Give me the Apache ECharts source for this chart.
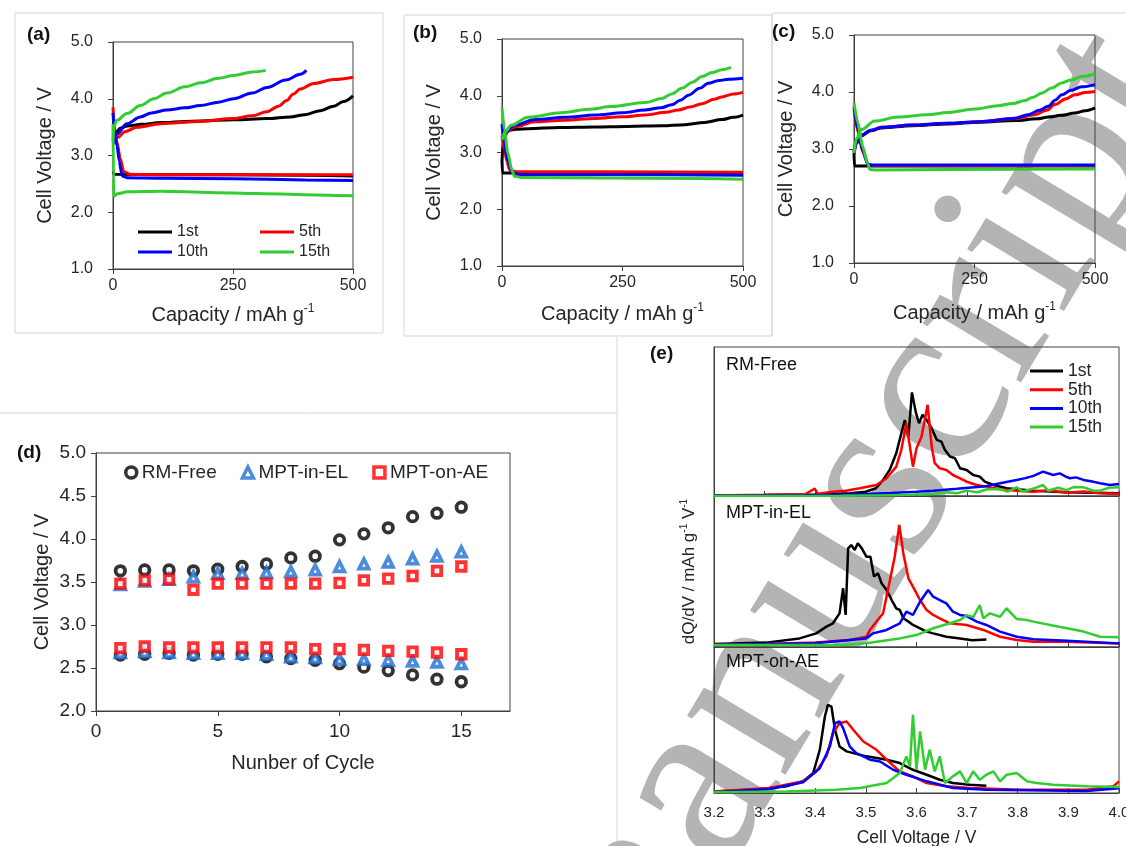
<!DOCTYPE html>
<html><head><meta charset="utf-8">
<script src="https://cdn.jsdelivr.net/npm/echarts@6/dist/echarts.min.js"></script>
<style>html,body{margin:0;padding:0;background:#fff}#c{width:1126px;height:846px}</style>
</head><body><div id="c"></div><script>
// ---------- (a) RM-Free charge/discharge ----------
const a1c=[[0,3.25],[5,3.40],[15,3.48],[30,3.52],[60,3.55],[100,3.58],[182,3.61],[251,3.63],[321,3.65],[370,3.68],[400,3.72],[432,3.79],[460,3.87],[480,3.95],[500,4.05]];
const a1d=[[0,2.72],[3,2.67],[100,2.66],[250,2.66],[400,2.65],[500,2.64]];
const a5c=[[3,3.20],[10,3.32],[25,3.42],[50,3.50],[100,3.56],[180,3.60],[250,3.65],[290,3.70],[320,3.77],[345,3.87],[362,3.97],[375,4.08],[390,4.17],[418,4.27],[460,4.34],[500,4.38]];
const a5d=[[0,3.85],[3,3.45],[8,3.25],[15,2.95],[22,2.72],[35,2.67],[100,2.66],[250,2.66],[400,2.66],[500,2.66]];
const a10c=[[3,3.20],[8,3.38],[29,3.56],[57,3.68],[80,3.75],[112,3.80],[150,3.84],[182,3.88],[220,3.94],[251,4.00],[290,4.10],[321,4.20],[360,4.33],[390,4.43],[403,4.50]];
const a10d=[[0,3.75],[3,3.40],[8,3.20],[13,2.90],[19,2.64],[30,2.61],[100,2.60],[250,2.59],[400,2.57],[500,2.56]];
const a15c=[[0,3.30],[2,3.52],[8,3.62],[29,3.74],[57,3.88],[85,4.00],[112,4.10],[150,4.21],[182,4.28],[220,4.36],[251,4.41],[290,4.47],[318,4.50]];
const a15d=[[0,3.55],[1,2.60],[2,2.28],[10,2.33],[30,2.36],[100,2.37],[200,2.35],[300,2.33],[400,2.31],[500,2.29]];
// ---------- (b) MPT-in-EL ----------
const b1c=[[0,2.85],[3,3.20],[12,3.39],[30,3.41],[54,3.42],[120,3.44],[193,3.45],[260,3.46],[331,3.47],[380,3.49],[420,3.53],[456,3.58],[480,3.62],[500,3.66]];
const b1d=[[0,2.85],[1,2.64],[40,2.64],[200,2.64],[500,2.64]];
const b5c=[[0,3.22],[10,3.36],[26,3.45],[68,3.54],[130,3.57],[193,3.60],[250,3.63],[297,3.66],[340,3.71],[366,3.75],[390,3.80],[415,3.86],[440,3.94],[456,3.98],[480,4.03],[500,4.06]];
const b5d=[[0,3.30],[5,3.05],[10,2.85],[16,2.69],[30,2.66],[200,2.66],[500,2.65]];
const b10c=[[0,3.22],[10,3.38],[26,3.48],[68,3.58],[130,3.62],[193,3.66],[250,3.70],[297,3.75],[330,3.79],[352,3.84],[370,3.92],[387,4.01],[410,4.13],[428,4.22],[450,4.27],[470,4.29],[500,4.31]];
const b10d=[[0,3.50],[5,3.15],[12,2.85],[22,2.64],[35,2.61],[200,2.61],[500,2.60]];
const b15c=[[0,3.22],[8,3.38],[19,3.48],[54,3.62],[123,3.70],[180,3.76],[227,3.81],[297,3.88],[331,3.95],[352,4.03],[373,4.13],[395,4.24],[415,4.34],[436,4.41],[456,4.46],[475,4.50]];
const b15d=[[0,3.79],[5,3.40],[12,3.00],[20,2.70],[26,2.58],[40,2.56],[200,2.55],[400,2.54],[500,2.53]];
// ---------- (c) MPT-on-AE ----------
const c1c=[[0,2.90],[5,3.10],[15,3.23],[35,3.32],[57,3.37],[120,3.41],[195,3.44],[260,3.47],[334,3.50],[380,3.53],[403,3.56],[430,3.59],[458,3.63],[480,3.67],[500,3.72]];
const c1d=[[0,2.90],[1,2.70],[30,2.70],[200,2.70],[500,2.70]];
const c5c=[[0,2.95],[5,3.12],[15,3.24],[35,3.33],[57,3.38],[120,3.42],[195,3.45],[260,3.48],[334,3.53],[375,3.60],[400,3.68],[417,3.78],[440,3.88],[458,3.95],[480,3.99],[500,4.01]];
const c5d=[[0,3.70],[8,3.30],[18,2.95],[29,2.73],[40,2.71],[200,2.71],[500,2.71]];
const c10c=[[0,2.95],[5,3.12],[15,3.24],[35,3.33],[57,3.38],[120,3.42],[195,3.45],[260,3.48],[334,3.54],[361,3.60],[385,3.68],[403,3.75],[418,3.86],[431,3.95],[450,4.03],[472,4.09],[500,4.13]];
const c10d=[[0,3.75],[8,3.35],[18,2.98],[29,2.73],[40,2.72],[200,2.72],[500,2.72]];
const c15c=[[0,2.93],[5,3.18],[15,3.34],[43,3.49],[91,3.56],[150,3.60],[195,3.64],[250,3.70],[299,3.76],[330,3.80],[355,3.85],[372,3.91],[389,3.98],[410,4.07],[431,4.16],[450,4.21],[472,4.27],[500,4.32]];
const c15d=[[0,3.81],[8,3.45],[18,3.05],[28,2.75],[33,2.64],[45,2.63],[200,2.64],[500,2.65]];
// ---------- (d) average voltages vs cycle ----------
const cycles=[1,2,3,4,5,6,7,8,9,10,11,12,13,14,15];
const rmFreeChg=[3.63,3.64,3.64,3.63,3.65,3.68,3.71,3.78,3.80,3.99,4.06,4.13,4.26,4.30,4.37];
const rmFreeDis=[2.65,2.66,2.67,2.65,2.66,2.66,2.63,2.61,2.59,2.55,2.51,2.47,2.42,2.37,2.34];
const inElChg=[3.47,3.51,3.53,3.56,3.60,3.60,3.61,3.62,3.64,3.68,3.71,3.73,3.77,3.80,3.85];
const inElDis=[2.68,2.69,2.68,2.67,2.67,2.67,2.66,2.63,2.62,2.60,2.60,2.59,2.58,2.57,2.55];
const onAeChg=[3.48,3.52,3.53,3.41,3.48,3.48,3.48,3.48,3.48,3.49,3.52,3.54,3.57,3.63,3.68];
const onAeDis=[2.73,2.75,2.74,2.74,2.74,2.74,2.74,2.74,2.72,2.72,2.71,2.70,2.69,2.68,2.66];
// ---------- (e) dQ/dV (arbitrary units, 0-100 per panel) ----------
const eFree1=[[3.20,0.5],[3.30,0.7],[3.40,1.0],[3.45,1.5],[3.47,1.9],[3.50,2.9],[3.52,5.2],[3.534,10.8],[3.547,17.5],[3.56,28.7],[3.57,42],[3.577,51],[3.584,40],[3.591,69.5],[3.599,55.6],[3.605,48.9],[3.612,54.5],[3.62,51],[3.63,45.5],[3.64,37.7],[3.649,36.5],[3.656,31],[3.666,26.5],[3.676,25.3],[3.686,18.6],[3.699,17.5],[3.712,14.1],[3.725,13],[3.735,9.6],[3.752,7.4],[3.778,5.2],[3.831,3.6],[3.897,2.5],[4.0,1.8]];
const eFree5=[[3.20,0.4],[3.30,0.8],[3.38,1.2],[3.399,5.0],[3.405,1.5],[3.435,2.9],[3.46,3.5],[3.488,5.2],[3.521,7.4],[3.541,11.9],[3.56,19.7],[3.57,31],[3.58,48.9],[3.587,33],[3.593,19.7],[3.60,32],[3.61,40],[3.622,61.2],[3.63,33.2],[3.636,22],[3.646,18.6],[3.659,17.5],[3.672,14.1],[3.686,11.9],[3.699,9.6],[3.719,7.4],[3.738,6.3],[3.765,4.5],[3.798,3.6],[3.831,2.9],[3.86,3.8],[3.897,2.2],[3.93,3.0],[3.963,1.8],[4.0,1.3]];
const eFree10=[[3.20,0.2],[3.40,0.5],[3.50,1.3],[3.55,2.0],[3.60,2.8],[3.633,3.6],[3.68,4.8],[3.732,6.3],[3.765,8.5],[3.798,10.8],[3.815,12.0],[3.831,13.5],[3.85,16.4],[3.87,14.1],[3.883,15.2],[3.895,13],[3.903,11.9],[3.915,12.5],[3.93,10.8],[3.95,9.5],[3.963,8.5],[3.982,7.4],[4.0,8.1]];
const eFree15=[[3.20,0.0],[3.45,0.2],[3.55,0.5],[3.633,1.3],[3.66,2.5],[3.68,1.8],[3.699,3.6],[3.72,2.5],[3.74,4.5],[3.765,4.5],[3.78,3.0],[3.798,5.8],[3.81,3.0],[3.831,5.0],[3.85,7.4],[3.86,3.5],[3.88,5.5],[3.897,3.9],[3.91,6.0],[3.93,5.8],[3.95,3.5],[3.963,3.6],[3.98,5.5],[4.0,5.8]];
const eInEl1=[[3.20,2.0],[3.303,2.9],[3.369,5.7],[3.402,9],[3.422,13.5],[3.435,15.7],[3.448,22.3],[3.455,38.9],[3.46,21.2],[3.465,65.3],[3.471,67.5],[3.478,64.2],[3.484,68.7],[3.492,65.3],[3.501,59.8],[3.509,59.8],[3.516,46.6],[3.524,48.8],[3.531,42.2],[3.541,37.7],[3.551,31.1],[3.56,25.6],[3.567,24.5],[3.574,19],[3.584,16.8],[3.593,14.6],[3.607,12.4],[3.62,10.2],[3.633,9],[3.659,6.8],[3.686,5.7],[3.71,4.5],[3.738,5.0]];
const eInEl5=[[3.20,1.3],[3.30,2.0],[3.40,2.9],[3.468,4.6],[3.501,6.8],[3.508,11.3],[3.521,16.8],[3.534,22.3],[3.547,43.3],[3.557,59.8],[3.566,80.8],[3.574,62],[3.584,45.5],[3.593,40],[3.607,31.1],[3.62,24.5],[3.633,21.2],[3.646,19],[3.666,15.7],[3.699,14.6],[3.732,11.3],[3.765,6.8],[3.798,4.6],[3.831,3.5],[3.897,3.5],[4.0,2.4]];
const eInEl10=[[3.20,1.3],[3.40,2.5],[3.50,5.7],[3.514,9],[3.541,11.3],[3.567,15.7],[3.58,23.4],[3.593,21.2],[3.607,30],[3.623,37.7],[3.633,33.3],[3.646,31.1],[3.659,28.9],[3.672,23.4],[3.686,21.2],[3.699,20.5],[3.719,16.8],[3.738,14.6],[3.765,10.2],[3.798,6.8],[3.831,5.1],[3.897,4.2],[4.0,2.4]];
const eInEl15=[[3.20,1.3],[3.45,1.3],[3.50,2.5],[3.567,5.7],[3.60,7.9],[3.633,12.4],[3.666,15.7],[3.686,17.9],[3.699,21.0],[3.712,19.8],[3.725,27.8],[3.732,19.0],[3.745,22.3],[3.765,20.0],[3.778,25.6],[3.798,18.5],[3.818,17.9],[3.831,16.8],[3.864,14.6],[3.897,12.4],[3.93,10.2],[3.963,6.8],[4.0,6.4]];
const eOnAe1=[[3.20,1.1],[3.277,2.3],[3.343,4.6],[3.376,8],[3.396,13.7],[3.409,29.6],[3.419,52.4],[3.425,60.4],[3.432,59.2],[3.439,43.3],[3.448,31.9],[3.462,28.5],[3.475,27.3],[3.501,25.1],[3.541,22.8],[3.567,20.5],[3.593,15.9],[3.62,12.5],[3.646,9.1],[3.672,6.8],[3.705,5.7],[3.738,5.0]];
const eOnAe5=[[3.20,1.1],[3.31,3.4],[3.376,8],[3.402,14.8],[3.422,25.1],[3.435,41],[3.448,47.8],[3.462,49],[3.475,43.3],[3.495,35.3],[3.521,29.6],[3.541,22.8],[3.567,14.8],[3.593,11.4],[3.62,6.8],[3.659,4.6],[3.705,3.4],[3.804,2.3],[3.936,2.3],[3.989,4.6],[4.0,8]];
const eOnAe10=[[3.20,0.5],[3.31,2.7],[3.376,7.3],[3.409,17],[3.429,31.9],[3.439,47.8],[3.448,49],[3.455,44.4],[3.468,31.9],[3.481,27.3],[3.495,25.1],[3.508,22.8],[3.528,21.6],[3.554,15.9],[3.58,12.5],[3.62,8],[3.672,3.4],[3.738,2.3],[3.936,1.4],[4.0,3.2]];
const eOnAe15=[[3.20,0.5],[3.343,1.1],[3.442,2.3],[3.488,3.4],[3.541,6.8],[3.567,13.7],[3.58,25.1],[3.587,18.2],[3.593,53.5],[3.60,16],[3.607,42.1],[3.617,16],[3.626,29.6],[3.636,14.8],[3.646,25.1],[3.656,6.8],[3.672,11.4],[3.686,14.8],[3.699,6.8],[3.712,14.8],[3.725,9.1],[3.738,12.5],[3.752,14.8],[3.765,8],[3.778,12.5],[3.798,13.7],[3.818,8],[3.837,6.8],[3.870,5.7],[3.936,4.6],[4.0,4.1]];
const capTicks=[0,250,500];
const cycleTicks=[0,5,10,15];

const FONT='"Liberation Sans", Arial, Helvetica, sans-serif';
const TXT='#262626', AX='#404040';
const COL={'1st':'#000000','5th':'#ff0000','10th':'#0000ff','15th':'#33cc33'};
const BLUE='#1f6fd1';

const gridDefs=[
 {left:113,top:42,width:240,height:227},
 {left:502,top:39,width:241,height:227},
 {left:854,top:35,width:241,height:228},
 {left:96,top:453,width:414,height:258},
 {left:714,top:347,width:405,height:149},
 {left:714,top:496,width:405,height:151},
 {left:714,top:647,width:405,height:146}
];
const grid=gridDefs.map(g=>Object.assign({show:true,borderColor:AX,borderWidth:1,backgroundColor:'transparent',containLabel:false,outerBoundsMode:'none'},g));

function supName(size){return {fontSize:size,color:TXT,fontFamily:FONT,rich:{n:{fontSize:size,color:TXT,fontFamily:FONT,lineHeight:size+4},s:{fontSize:Math.round(size*0.6),color:TXT,fontFamily:FONT,verticalAlign:'top',lineHeight:size+4}}};}
const axLine={show:true,onZero:false,lineStyle:{color:AX,width:1}};
const xAxis=[], yAxis=[];
[0,1,2].forEach(i=>{
  xAxis.push({type:'value',gridIndex:i,min:0,max:500,interval:250,axisLine:axLine,
    axisTick:{show:true,inside:false,length:5,lineStyle:{color:AX}},
    axisLabel:{fontSize:16,color:TXT,fontFamily:FONT,margin:9},splitLine:{show:false},
    name:'{n|Capacity / mAh g}{s|-1}',nameLocation:'middle',nameGap:[34,36,38][i],nameTextStyle:supName(20)});
  yAxis.push({type:'value',gridIndex:i,min:1,max:5,interval:1,axisLine:axLine,
    axisTick:{show:true,inside:false,length:5,lineStyle:{color:AX}},
    axisLabel:{fontSize:16,color:TXT,fontFamily:FONT,margin:20,formatter:v=>v.toFixed(1)},splitLine:{show:false},
    name:'Cell Voltage / V',nameLocation:'middle',nameGap:58,nameTextStyle:{fontSize:20,color:TXT,fontFamily:FONT}});
});
xAxis.push({type:'value',gridIndex:3,min:0,max:17,interval:5,axisLine:axLine,
  axisTick:{show:true,inside:false,length:5,lineStyle:{color:AX},customValues:cycleTicks},
  axisLabel:{fontSize:19,color:TXT,fontFamily:FONT,margin:11,customValues:cycleTicks},splitLine:{show:false},
  name:'Nunber of Cycle',nameLocation:'middle',nameGap:42,nameTextStyle:{fontSize:20,color:TXT,fontFamily:FONT}});
yAxis.push({type:'value',gridIndex:3,min:2,max:5,interval:0.5,axisLine:axLine,
  axisTick:{show:true,inside:false,length:5,lineStyle:{color:AX}},
  axisLabel:{fontSize:19,color:TXT,fontFamily:FONT,margin:10,formatter:v=>v.toFixed(1)},splitLine:{show:false},
  name:'Cell Voltage / V',nameLocation:'middle',nameGap:44,nameTextStyle:{fontSize:20,color:TXT,fontFamily:FONT}});
[4,5,6].forEach(i=>{
  const bottom=(i===6);
  xAxis.push({type:'value',gridIndex:i,min:3.2,max:4.0,interval:0.1,axisLine:axLine,
    axisTick:{show:true,inside:true,length:5,lineStyle:{color:AX}},
    axisLabel:{show:bottom,fontSize:15,color:TXT,fontFamily:FONT,margin:12,formatter:v=>v.toFixed(1)},splitLine:{show:false},
    name:bottom?'Cell Voltage / V':'',nameLocation:'middle',nameGap:36,nameTextStyle:{fontSize:17.5,color:TXT,fontFamily:FONT}});
  yAxis.push({type:'value',gridIndex:i,min:0,max:100,axisLine:axLine,axisTick:{show:false},axisLabel:{show:false},splitLine:{show:false},
    name:i===5?'{n|dQ/dV / mAh g}{s|-1}{n| V}{s|-1}':'',nameLocation:'middle',nameGap:14,nameTextStyle:supName(17)});
});

const series=[];
function ln(name,data,gi,w,smooth){
  series.push({type:'line',name,data,xAxisIndex:gi,yAxisIndex:gi,symbol:'none',showSymbol:false,
    smooth:smooth||false,smoothMonotone:'x',lineStyle:{color:COL[name],width:w},itemStyle:{color:COL[name]},animation:false,silent:true});
}
const panels=[[a1c,a1d,a5c,a5d,a10c,a10d,a15c,a15d],[b1c,b1d,b5c,b5d,b10c,b10d,b15c,b15d],[c1c,c1d,c5c,c5d,c10c,c10d,c15c,c15d]];
const names=['1st','5th','10th','15th'];
panels.forEach((p,gi)=>{names.forEach((n,k)=>{ln(n,p[2*k],gi,3,0.35);ln(n,p[2*k+1],gi,3,0.2);});});
[[eFree1,eFree5,eFree10,eFree15],[eInEl1,eInEl5,eInEl10,eInEl15],[eOnAe1,eOnAe5,eOnAe10,eOnAe15]].forEach((p,j)=>{
  names.forEach((n,k)=>ln(n,p[k],4+j,2.5,false));
});
function sc(name,vals,sym,col,size){
  series.push({type:'scatter',name,data:cycles.map((c,i)=>[c,vals[i]]),xAxisIndex:3,yAxisIndex:3,symbol:sym,symbolSize:size,
    itemStyle:{color:'#ffffff',borderColor:col,borderWidth:3.8},animation:false,silent:true});
}
sc('RM-Free',rmFreeChg,'circle','#000',9.5);sc('RM-Free',rmFreeDis,'circle','#000',9.5);
sc('MPT-in-EL',inElChg,'triangle',BLUE,9.5);sc('MPT-in-EL',inElDis,'triangle',BLUE,9.5);
sc('MPT-on-AE',onAeChg,'rect','#ff0000',8.5);sc('MPT-on-AE',onAeDis,'rect','#ff0000',8.5);

const legTxt=(s)=>({fontSize:s,color:TXT,fontFamily:FONT,lineHeight:s});
const legend=[
 {data:['1st','10th'],orient:'vertical',left:138,top:224,icon:'rect',itemWidth:34,itemHeight:3,itemGap:4,textStyle:legTxt(16),padding:0,selectedMode:false},
 {data:['5th','15th'],orient:'vertical',left:260,top:224,icon:'rect',itemWidth:34,itemHeight:3,itemGap:4,textStyle:legTxt(16),padding:0,selectedMode:false},
 {data:['RM-Free','MPT-in-EL','MPT-on-AE'],orient:'horizontal',left:124,top:463,itemWidth:11,itemHeight:11,itemGap:24,textStyle:legTxt(19),padding:0,selectedMode:false,itemStyle:{borderWidth:3.5}},
 {data:['1st','5th','10th','15th'],orient:'vertical',left:1030,top:362,icon:'rect',itemWidth:33,itemHeight:3,itemGap:0.7,textStyle:legTxt(17.5),padding:0,selectedMode:false}
];

const lab=(t,x,y,bold,size)=>({type:'text',x,y,style:{text:t,fill:'#111',font:(bold?'bold ':'')+size+'px '+FONT,align:'left',verticalAlign:'middle'},z:10});
const frame=(pts)=>({type:'polyline',shape:{points:pts},style:{fill:null,stroke:'#d6d6d6',lineWidth:1},z:-2});
const graphic=[
 {type:'text',x:676,y:1072,rotation:59*Math.PI/180,z:-1,silent:true,style:{text:'manuscript',font:'250px "Liberation Serif", "DejaVu Serif", serif',fill:'#b4b4b4',align:'left',verticalAlign:'bottom'}},
 frame([[15,13],[383,13],[383,333],[15,333],[15,13]]),
 frame([[404,15],[772,15],[772,336],[404,336],[404,15]]),
 frame([[772,336],[772,13],[1126,13]]),
 frame([[0,413],[617,413]]),
 frame([[617,337],[617,846]]),
 lab('(a)',27,35,true,19), lab('(b)',413,33,true,19), lab('(c)',772,32,true,19),
 lab('(d)',17,453,true,19), lab('(e)',650,354,true,19),
 lab('RM-Free',726,365,false,18), lab('MPT-in-EL',726,513,false,18), lab('MPT-on-AE',726,662,false,18)
];

const chart=echarts.init(document.getElementById('c'),null,{renderer:'canvas'});
chart.setOption({animation:false,backgroundColor:'#ffffff',textStyle:{fontFamily:FONT},grid,xAxis,yAxis,series,legend,graphic});
</script></body></html>
